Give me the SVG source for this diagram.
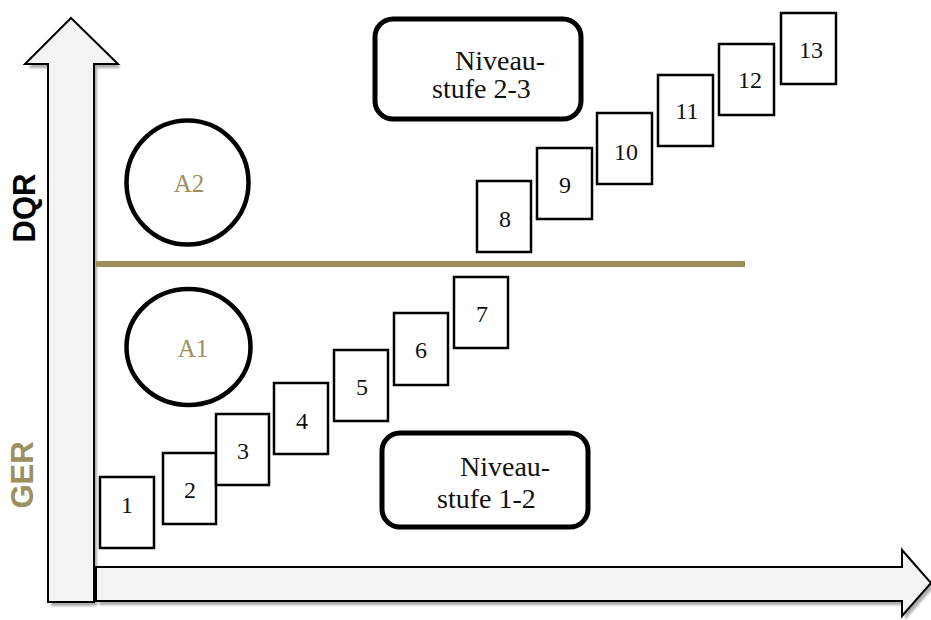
<svg xmlns="http://www.w3.org/2000/svg" width="931" height="620" viewBox="0 0 931 620">
<defs>
<filter id="sh" x="-10%" y="-10%" width="130%" height="130%">
<feGaussianBlur stdDeviation="1.2"/>
</filter>
</defs>
<style>
.arrow{fill:#f4f4f4;stroke:#000;stroke-width:2;stroke-linejoin:miter}
.shadow{fill:#8a8a8a;opacity:0.7}
.box{fill:#fff;stroke:#000;stroke-width:2.5}
.num{font-family:"Liberation Serif",serif;font-size:24px;fill:#111;text-anchor:middle}
.circ{fill:#fff;stroke:#000;stroke-width:4.5}
.clab{font-family:"Liberation Serif",serif;font-size:25px;fill:#9a9060;text-anchor:middle}
.rbox{fill:#fff;stroke:#000;stroke-width:5}
.niv{font-family:"Liberation Serif",serif;font-size:28px;fill:#111}
.axis{font-family:"Liberation Sans",Arial,sans-serif;font-weight:bold;font-size:31px;text-anchor:middle}
</style>
<rect width="931" height="620" fill="#fff"/>

<g id="axes">
<g class="shadow" filter="url(#sh)">
<polygon points="51,606 51,68 28,68 74,22 121,68 97,68 97,606"/>
<polygon points="99,605 99,571 905,571 905,554 934,587 905,620 905,605"/>
</g>
<polygon class="arrow" points="48,602 48,64 25,64 71,18 118,64 94,64 94,602"/>
<polygon class="arrow" points="96,601 96,567 902,567 902,550 931,583 902,616 902,601"/>
</g>

<g id="connectors">
<line x1="96" y1="264" x2="745" y2="264" stroke="#9a9058" stroke-width="6"/>
</g>

<g id="labels">
<text class="axis" fill="#000" transform="translate(35,208) rotate(-90)">DQR</text>
<text class="axis" fill="#9a9060" transform="translate(33,475) rotate(-90)">GER</text>
</g>

<g id="A2"><ellipse class="circ" cx="187.5" cy="182.5" rx="61" ry="62"/><text class="clab" x="189" y="192">A2</text></g>
<g id="A1"><ellipse class="circ" cx="188.5" cy="347" rx="62" ry="58"/><text class="clab" x="193" y="357">A1</text></g>

<g id="N23"><rect class="rbox" x="375" y="19" width="206" height="100" rx="18"/><text class="niv"><tspan x="455" y="70">Niveau-</tspan><tspan x="432" y="98">stufe 2-3</tspan></text></g>
<g id="N12"><rect class="rbox" x="382" y="433" width="206" height="94" rx="18"/><text class="niv"><tspan x="460" y="476">Niveau-</tspan><tspan x="437" y="508">stufe 1-2</tspan></text></g>

<g id="b1"><rect class="box" x="100" y="477" width="54" height="71"/><text class="num" x="127" y="513">1</text></g>
<g id="b2"><rect class="box" x="163" y="453" width="53" height="71"/><text class="num" x="190" y="498">2</text></g>
<g id="b3"><rect class="box" x="216" y="414" width="53" height="71"/><text class="num" x="243" y="459">3</text></g>
<g id="b4"><rect class="box" x="274" y="383" width="54" height="71"/><text class="num" x="302" y="429">4</text></g>
<g id="b5"><rect class="box" x="334" y="350" width="54" height="71"/><text class="num" x="362" y="395">5</text></g>
<g id="b6"><rect class="box" x="394" y="313" width="54" height="72"/><text class="num" x="421" y="358">6</text></g>
<g id="b7"><rect class="box" x="454" y="277" width="54" height="71"/><text class="num" x="482" y="322">7</text></g>
<g id="b8"><rect class="box" x="477" y="181" width="54" height="71"/><text class="num" x="505" y="227">8</text></g>
<g id="b9"><rect class="box" x="537" y="148" width="55" height="71"/><text class="num" x="565" y="193">9</text></g>
<g id="b10"><rect class="box" x="597" y="113" width="55" height="71"/><text class="num" x="626" y="160">10</text></g>
<g id="b11"><rect class="box" x="658" y="75" width="55" height="71"/><text class="num" x="687" y="119">11</text></g>
<g id="b12"><rect class="box" x="719" y="44" width="55" height="71"/><text class="num" x="750" y="88">12</text></g>
<g id="b13"><rect class="box" x="781" y="13" width="55" height="71"/><text class="num" x="811" y="58">13</text></g>
</svg>
